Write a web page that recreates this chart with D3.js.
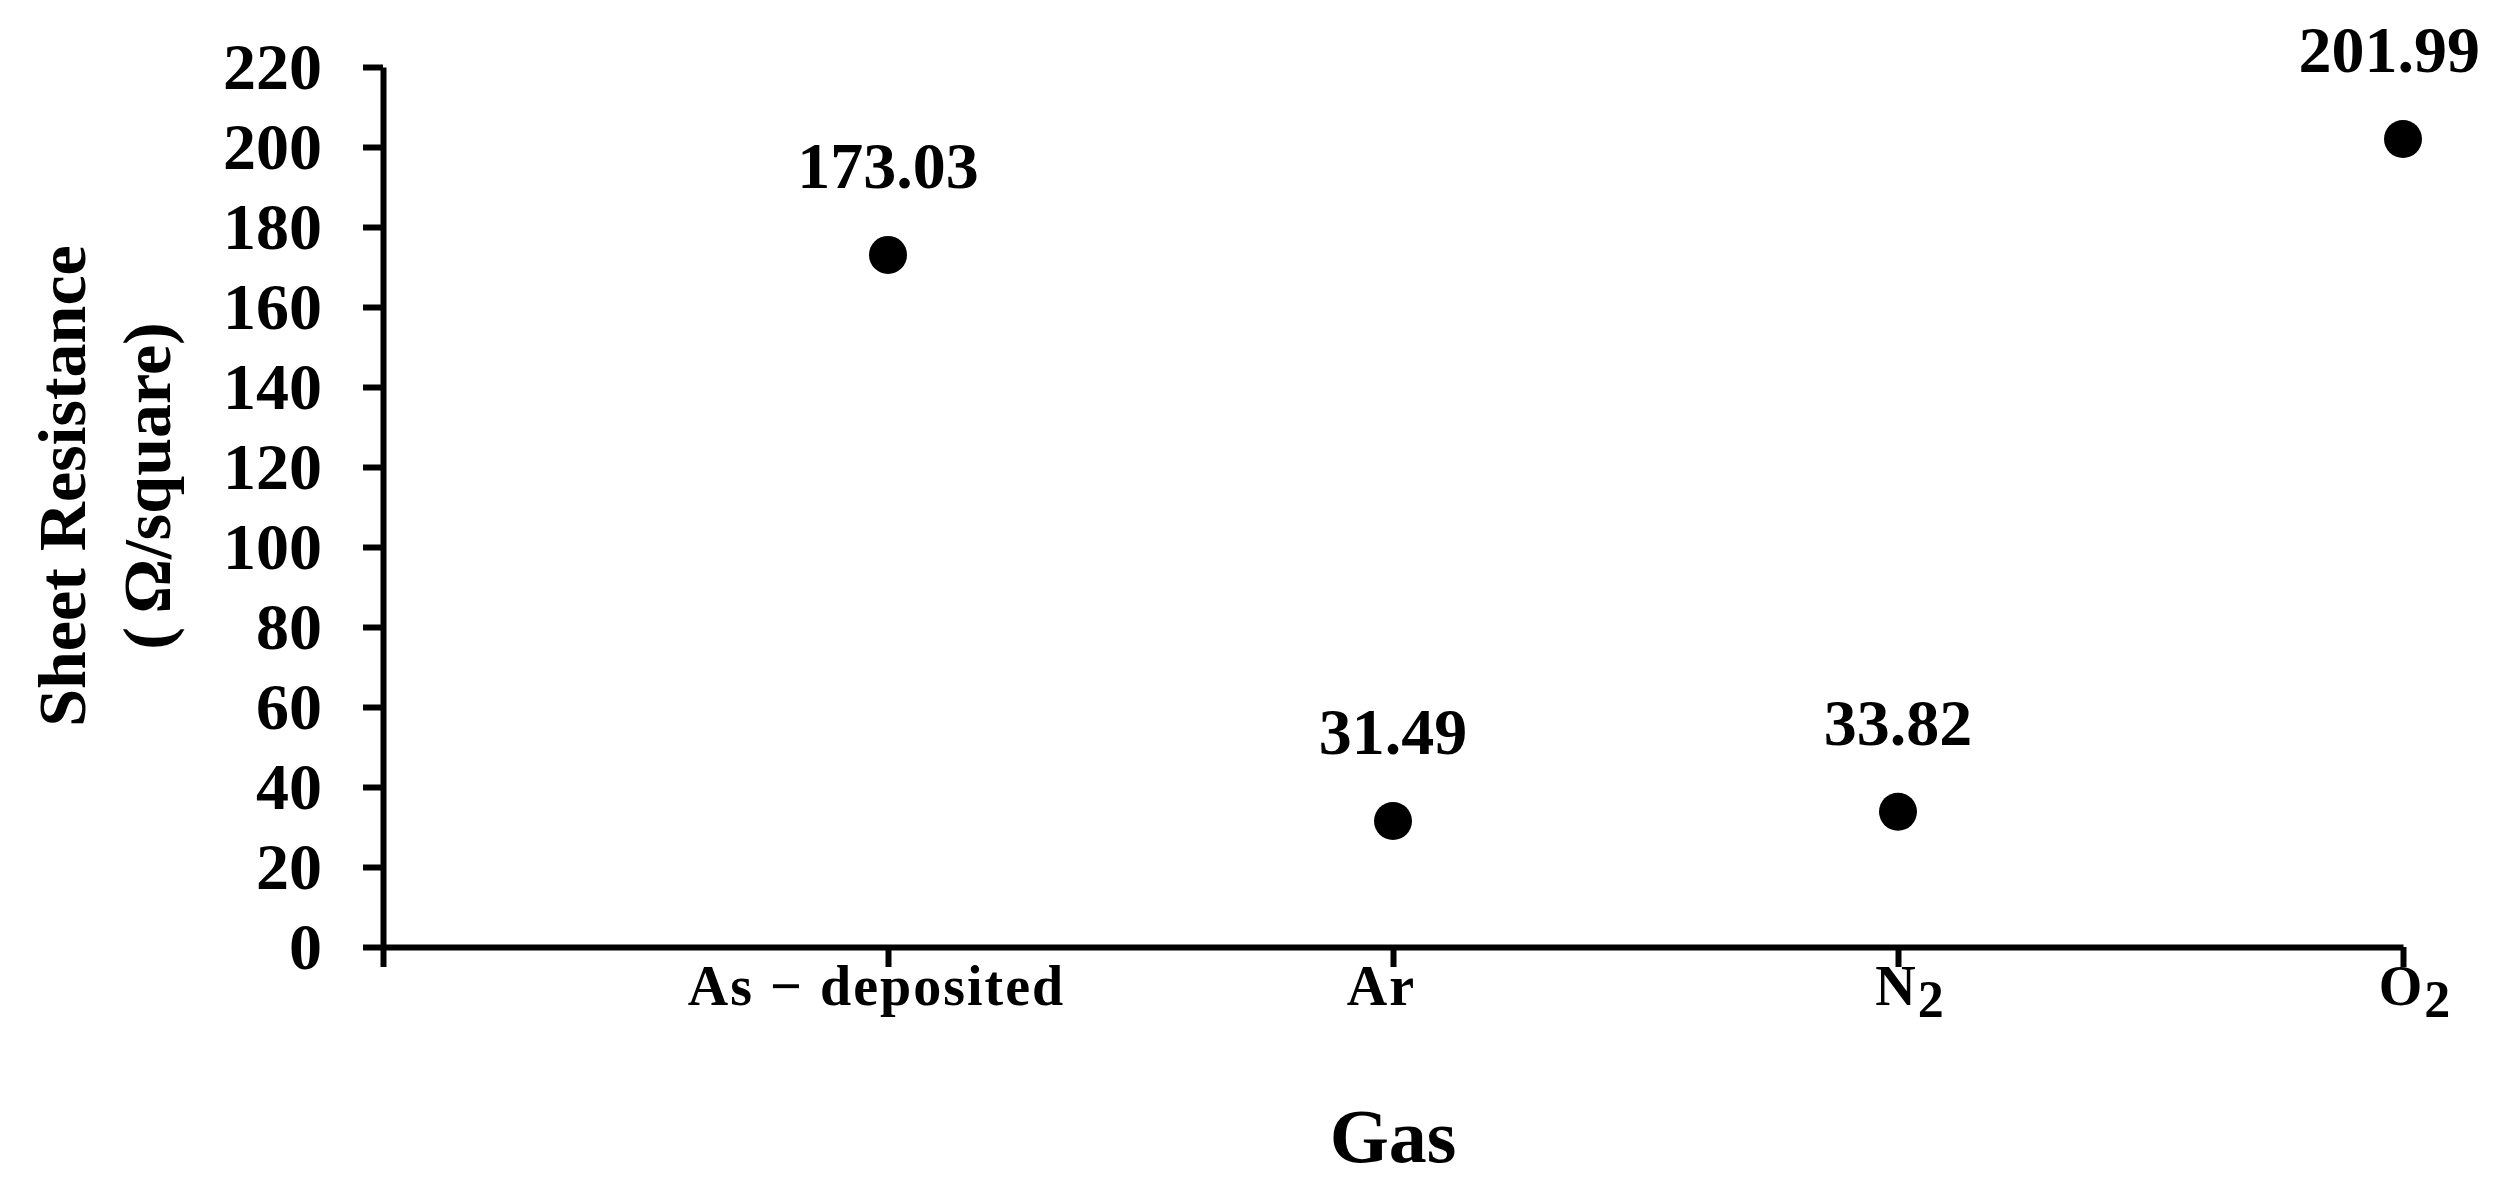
<!DOCTYPE html>
<html>
<head>
<meta charset="utf-8">
<script src="https://cdn.jsdelivr.net/npm/d3@7"></script>
<style>
  body { margin: 0; background: #fff; }
  svg { display: block; }
</style>
</head>
<body>
<div id="chart"></div>
<script>
// gas treatment categories, labels split into main text + subscript
var categories = ["As − deposited", "Ar", "N2", "O2"];
var labelMain = ["As − deposited", "Ar", "N", "O"];
var labelSub = ["", "", "2", "2"];
var sheetResistance = [173.03, 31.49, 33.82, 201.99];
var yTicks = [0, 20, 40, 60, 80, 100, 120, 140, 160, 180, 200, 220];

var serif = "'Liberation Serif', 'Times New Roman', serif";

var svg = d3.select("#chart")
            .append("svg")
            .attr("width", 2503)
            .attr("height", 1180);

// first slot is empty so the first category sits one step right of the y axis
var xScale = d3.scalePoint()
               .domain([""].concat(categories))
               .range([383, 2403]),
    yScale = d3.scaleLinear()
               .domain([0, 220])
               .range([947, 67]);

// y axis
var yAxis = svg.append("g")
   .attr("transform", "translate(383,0)")
   .call(d3.axisLeft(yScale).tickValues(yTicks).tickSize(20).tickSizeOuter(0).tickPadding(41));
yAxis.select(".domain").attr("stroke-width", 6).attr("stroke", "#000");
yAxis.selectAll(".tick line").attr("stroke-width", 6).attr("stroke", "#000");
yAxis.selectAll(".tick text")
     .attr("font-family", serif)
     .attr("font-weight", "bold")
     .attr("font-size", 66)
     .attr("fill", "#000");

// x axis
var xAxis = svg.append("g")
   .attr("transform", "translate(0,947)")
   .call(d3.axisBottom(xScale).tickSize(20).tickSizeOuter(0));
xAxis.select(".domain").attr("stroke-width", 6).attr("stroke", "#000");
xAxis.selectAll(".tick line").attr("stroke-width", 6).attr("stroke", "#000");
xAxis.selectAll(".tick text").remove();

xAxis.selectAll(".tick").each(function(d) {
    var i = categories.indexOf(d);
    if (i < 0) return;
    var t = d3.select(this).append("text")
        .attr("y", 58)
        .attr("dx", labelSub[i] ? 12 : -12)
        .attr("text-anchor", "middle")
        .attr("font-family", serif)
        .attr("font-weight", "bold")
        .attr("font-size", 56)
        .attr("letter-spacing", 2)
        .attr("fill", "#000");
    t.append("tspan").text(labelMain[i]);
    if (labelSub[i]) {
        t.append("tspan")
         .attr("dy", 12)
         .attr("font-size", 52)
         .text(labelSub[i]);
    }
});

// points
svg.selectAll(".dot")
   .data(sheetResistance)
   .enter()
   .append("circle")
   .attr("class", "dot")
   .attr("cx", function(d, i) { return xScale(categories[i]); })
   .attr("cy", function(d) { return yScale(d); })
   .attr("r", 19)
   .attr("fill", "#000");

// value labels
svg.selectAll(".val")
   .data(sheetResistance)
   .enter()
   .append("text")
   .attr("class", "val")
   .attr("x", function(d, i) { return xScale(categories[i]); })
   .attr("y", function(d) { return yScale(d) - 67; })
   .attr("text-anchor", "middle")
   .attr("font-family", serif)
   .attr("font-weight", "bold")
   .attr("font-size", 66)
   .text(function(d) { return d.toFixed(2); })
   .each(function() {
       // keep label inside the right edge like the original
       var w = this.getComputedTextLength();
       var cx = +d3.select(this).attr("x");
       if (cx + w / 2 > 2480) d3.select(this).attr("x", 2480 - w / 2);
   });

// axis titles
svg.append("text")
   .attr("x", 1393)
   .attr("y", 1162)
   .attr("text-anchor", "middle")
   .attr("font-family", serif)
   .attr("font-weight", "bold")
   .attr("font-size", 76)
   .text("Gas");

var yTitle = svg.append("g")
   .attr("transform", "translate(0,486) rotate(-90)")
   .attr("font-family", serif)
   .attr("font-weight", "bold")
   .attr("font-size", 68)
   .attr("text-anchor", "middle");
yTitle.append("text").attr("x", 0).attr("y", 85).text("Sheet Resistance");
yTitle.append("text").attr("x", 0).attr("y", 170).text("(\u2009Ω/square)");
</script>
</body>
</html>
